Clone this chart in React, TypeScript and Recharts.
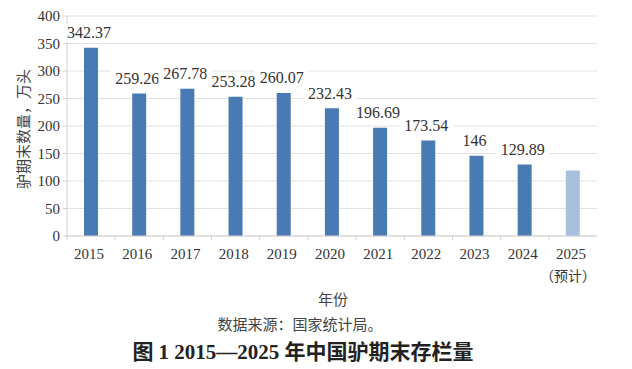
import React from 'react';
import { BarChart, Bar, XAxis, YAxis, CartesianGrid, LabelList, Cell } from 'recharts';

// 年份与期末存栏量（万头）
const years = ['2015', '2016', '2017', '2018', '2019', '2020', '2021', '2022', '2023', '2024', '2025'];
const stock = [342.37, 259.26, 267.78, 253.28, 260.07, 232.43, 196.69, 173.54, 146, 129.89, 119];
const labels = ['342.37', '259.26', '267.78', '253.28', '260.07', '232.43', '196.69', '173.54', '146', '129.89', ''];
const forecast = [false, false, false, false, false, false, false, false, false, false, true];
const yTicks = [0, 50, 100, 150, 200, 250, 300, 350, 400];

const data = years.map((y, i) => ({ year: y, value: stock[i], label: labels[i], forecast: forecast[i] }));

const W = 632;
const H = 369;
const CHART_H = 290;
const MARGIN = { top: 16, right: 35, left: 0, bottom: 0 };
const Y_AXIS_W = 67;
const BAND = (W - MARGIN.left - MARGIN.right - Y_AXIS_W) / years.length;

const SERIF = "'Liberation Serif', 'Times New Roman', 'Noto Sans CJK SC', serif";
const CJK = "'Noto Sans CJK SC', 'Liberation Serif', serif";

const XTick = (props: any) => {
  const { x, y, payload, index } = props;
  const isForecast = forecast[index];
  return (
    <g>
      <line x1={x - BAND / 2} x2={x - BAND / 2} y1={y} y2={y + 4} stroke="#d0d0d0" />
      <text x={x - 2} y={y + 18} textAnchor="middle" dominantBaseline="central" fontSize={15} fill="#333" fontFamily={SERIF}>
        {payload.value}
      </text>
      {isForecast && (
        <text x={x - 5} y={y + 39} textAnchor="middle" dominantBaseline="central" fontSize={14} fill="#333" fontFamily={CJK}>
          （预计）
        </text>
      )}
    </g>
  );
};

const BarLabel = (props: any) => {
  const { x, y, width, value } = props;
  if (!value) return null;
  const cx = x + width / 2 - 2;
  const cy = y - 15;
  const w = String(value).length * 7.6 + 8;
  return (
    <g>
      <rect x={cx - w / 2} y={cy - 9} width={w} height={18} fill="#fff" />
      <text x={cx} y={cy} textAnchor="middle" dominantBaseline="central" fontSize={16} fill="#333" fontFamily={SERIF}>
        {value}
      </text>
    </g>
  );
};

const YLabel = (props: any) => {
  const { viewBox } = props;
  const cx = 22;
  const cy = viewBox.y + viewBox.height / 2 + 3;
  return (
    <text x={cx} y={cy} transform={`rotate(-90, ${cx}, ${cy})`} textAnchor="middle" dominantBaseline="central" fontSize={15} fill="#444" fontFamily={CJK}>
      驴期末数量，万头
    </text>
  );
};

const caption = (text: string, cx: number, cy: number, size: number, bold = false) => (
  <div
    style={{
      position: 'absolute',
      left: cx,
      top: cy,
      transform: 'translate(-50%, -50%)',
      whiteSpace: 'nowrap',
      fontSize: size,
      fontWeight: bold ? 700 : 400,
      color: bold ? '#222' : '#444',
      fontFamily: bold ? SERIF : CJK,
      lineHeight: 1,
    }}
  >
    {text}
  </div>
);

export default function App() {
  return (
    <div style={{ position: 'absolute', left: 0, top: 0, width: W, height: H, background: '#fff' }}>
      <BarChart width={W} height={CHART_H} data={data} margin={MARGIN} barSize={14}>
        <CartesianGrid vertical={false} stroke="#e2e2e2" />
        <XAxis
          dataKey="year"
          axisLine={{ stroke: '#d0d0d0' }}
          tickLine={false}
          tickSize={0}
          tickMargin={0}
          interval={0}
          height={CHART_H - 236}
          tick={<XTick />}
        />
        <YAxis
          width={Y_AXIS_W}
          domain={[0, 400]}
          ticks={yTicks}
          interval={0}
          axisLine={{ stroke: '#d0d0d0' }}
          tickLine={{ stroke: '#d0d0d0' }}
          tickSize={4}
          tickMargin={3}
          tick={{ fontSize: 15, fill: '#333', fontFamily: SERIF }}
          label={<YLabel />}
        />
        <Bar dataKey="value" isAnimationActive={false}>
          {data.map((d) => (
            <Cell key={d.year} fill={d.forecast ? '#a8c0dd' : '#4a7ab4'} />
          ))}
          <LabelList dataKey="label" content={<BarLabel />} />
        </Bar>
      </BarChart>
      {caption('年份', 333, 298, 15)}
      {caption('数据来源：国家统计局。', 300, 323, 15)}
      {caption('图 1 2015—2025 年中国驴期末存栏量', 303, 352, 21, true)}
    </div>
  );
}
